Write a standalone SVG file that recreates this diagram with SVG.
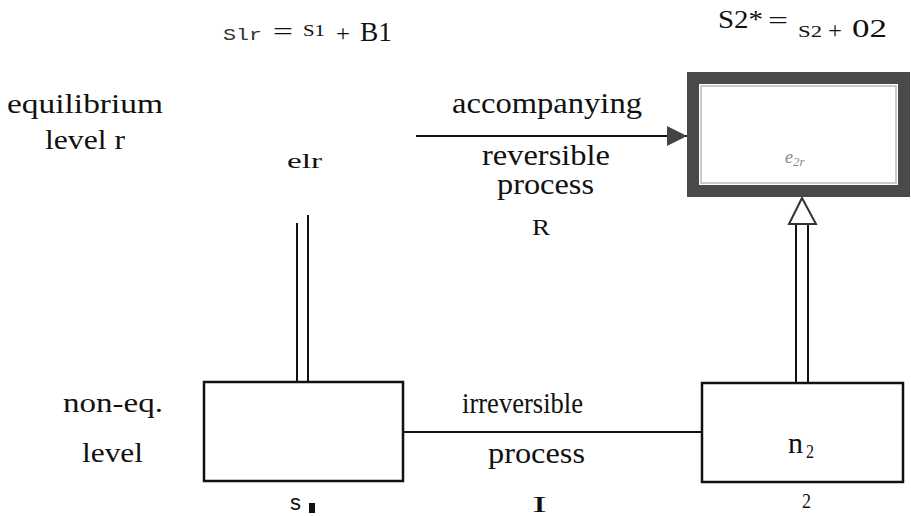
<svg xmlns="http://www.w3.org/2000/svg" width="911" height="516" viewBox="0 0 911 516">
<defs>
<style>
.t{font-family:"Liberation Serif","Times New Roman",serif;fill:#111;}
.m{font-family:"Liberation Mono","Courier New",monospace;fill:#333;}
.s{font-family:"Liberation Sans",Arial,sans-serif;fill:#111;}
.box{fill:#fff;stroke:#111;stroke-width:2.5;}
.ln{stroke:#111;stroke-width:2;fill:none;}
</style>
<marker id="filled" viewBox="0 0 20 20" refX="20" refY="10" markerWidth="20" markerHeight="20" markerUnits="userSpaceOnUse" orient="auto">
<path d="M0,0 L20,10 L0,20 Z" fill="#444"/>
</marker>
</defs>
<rect width="911" height="516" fill="#fff"/>

<g id="labels">
<text class="m" x="223" y="40" font-size="17" textLength="39" lengthAdjust="spacingAndGlyphs">Slr</text>
<text class="t" x="273" y="40" font-size="26" textLength="20" lengthAdjust="spacingAndGlyphs">=</text>
<text class="t" x="303" y="36" font-size="17" textLength="22" lengthAdjust="spacingAndGlyphs">S1</text>
<text class="t" x="336" y="41" font-size="24" textLength="14" lengthAdjust="spacingAndGlyphs">+</text>
<text class="t" x="360" y="41" font-size="28" textLength="32" lengthAdjust="spacingAndGlyphs">B1</text>

<text class="t" x="718" y="28" font-size="25" textLength="45" lengthAdjust="spacingAndGlyphs">S2*</text>
<text class="t" x="768" y="29" font-size="26" textLength="20" lengthAdjust="spacingAndGlyphs">=</text>
<text class="t" x="798" y="37" font-size="17" textLength="24" lengthAdjust="spacingAndGlyphs">S2</text>
<text class="t" x="828" y="38" font-size="24" textLength="14" lengthAdjust="spacingAndGlyphs">+</text>
<text class="t" x="852" y="37" font-size="25" textLength="35" lengthAdjust="spacingAndGlyphs">02</text>

<text class="t" x="7" y="113" font-size="27" textLength="156" lengthAdjust="spacingAndGlyphs">equilibrium</text>
<text class="t" x="45" y="149" font-size="27" textLength="80" lengthAdjust="spacingAndGlyphs">level r</text>
<text class="t" x="63" y="412" font-size="27" textLength="100" lengthAdjust="spacingAndGlyphs">non-eq.</text>
<text class="t" x="82" y="462" font-size="27" textLength="61" lengthAdjust="spacingAndGlyphs">level</text>

<text class="t" x="452" y="113" font-size="29" textLength="190" lengthAdjust="spacingAndGlyphs">accompanying</text>
<text class="t" x="482" y="165" font-size="29" textLength="128" lengthAdjust="spacingAndGlyphs">reversible</text>
<text class="t" x="497" y="194" font-size="29" textLength="97" lengthAdjust="spacingAndGlyphs">process</text>
<text class="t" x="532" y="235" font-size="24" textLength="18" lengthAdjust="spacingAndGlyphs">R</text>

<text class="t" x="462" y="413" font-size="29" textLength="121" lengthAdjust="spacingAndGlyphs">irreversible</text>
<text class="t" x="488" y="463" font-size="29" textLength="97" lengthAdjust="spacingAndGlyphs">process</text>
<text class="t" x="532" y="512" font-size="23" textLength="15" lengthAdjust="spacingAndGlyphs">I</text>
</g>

<g id="connectors">
<line class="ln" x1="416" y1="136" x2="687" y2="136" marker-end="url(#filled)"/>
<line class="ln" x1="403" y1="432" x2="702" y2="432"/>
<line class="ln" x1="297" y1="223" x2="297" y2="382"/>
<line class="ln" x1="308" y1="215" x2="308" y2="382"/>
<line class="ln" x1="796" y1="223" x2="796" y2="383"/>
<line class="ln" x1="808" y1="223" x2="808" y2="383"/>
<path d="M789,224 L802,198 L816,224 Z" fill="#fff" stroke="#333" stroke-width="2"/>
</g>

<g id="node-e1r">
<text class="t" x="287" y="168" font-size="22" textLength="35" lengthAdjust="spacingAndGlyphs">elr</text>
</g>

<g id="node-e2r">
<rect x="693" y="78" width="211" height="113" fill="#fff" stroke="#4a4a4a" stroke-width="12"/>
<rect x="701" y="86" width="195" height="97" fill="none" stroke="#bbb" stroke-width="1.5"/>
<text class="t" x="785" y="163" font-size="18" font-style="italic" style="fill:#888">e<tspan font-size="13" dy="3">2r</tspan></text>
</g>

<g id="node-s1">
<rect class="box" x="204" y="382" width="199" height="99"/>
<text class="s" x="290" y="510" font-size="22">s</text>
<rect x="309" y="503" width="6" height="10" fill="#111"/>
</g>

<g id="node-n2">
<rect class="box" x="702" y="383" width="201" height="99"/>
<text class="t" x="788" y="453" font-size="30">n</text>
<text class="t" x="806" y="458" font-size="19" textLength="8" lengthAdjust="spacingAndGlyphs">2</text>
<text class="t" x="802" y="508" font-size="21" textLength="9" lengthAdjust="spacingAndGlyphs">2</text>
</g>
</svg>
